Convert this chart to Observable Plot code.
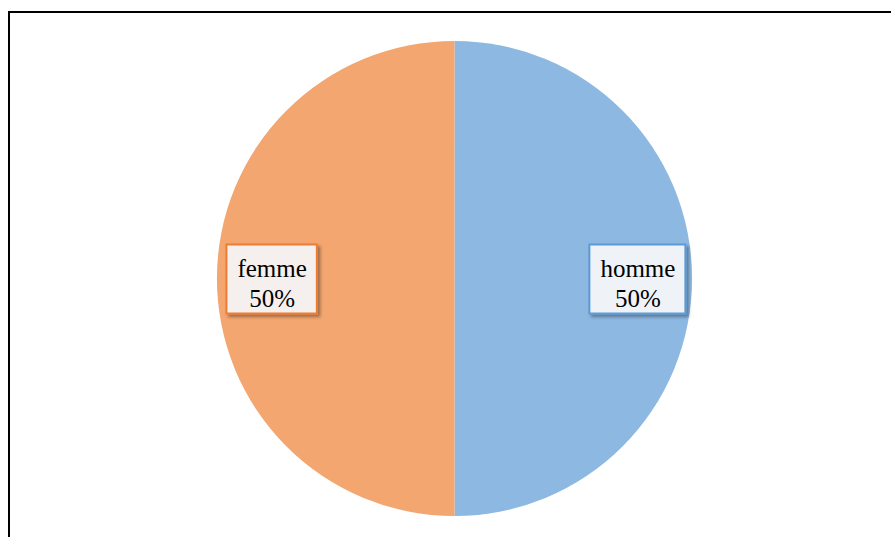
<!DOCTYPE html>
<html><head><meta charset="utf-8">
<script src="https://cdn.jsdelivr.net/npm/d3@7"></script>
<script src="https://cdn.jsdelivr.net/npm/@observablehq/plot@0.6"></script>
<style>
html,body{margin:0;padding:0;background:#fff;overflow:hidden}
#chart{position:relative;width:891px;height:537px}
#chart svg{position:absolute;left:0;top:0}
#frame{position:absolute;left:8px;top:11px;width:900px;height:600px;border-left:2px solid #000;border-top:2px solid #000;box-shadow:0 1px 0 #bbb}
</style></head>
<body>
<div id="chart"><div id="frame"></div></div>
<script>
const categories = ["homme", "femme"];
const values = [50, 50];
const percentLabels = ["50%", "50%"];

const sliceColor = d3.scaleOrdinal(categories, ["#8DB8E1", "#F3A66F"]);
const borderColor = d3.scaleOrdinal(categories, ["#5B9BD5", "#ED7D31"]);
const boxFill = d3.scaleOrdinal(categories, ["#EFF2F7", "#F5F0EE"]);

const rows = categories.map((c, i) => ({category: c, value: values[i], pct: percentLabels[i]}));
const arcs = d3.pie().sort(null).value(d => d.value)(rows);
const labelR = 0.77;
const labels = arcs.map(a => {
  const m = (a.startAngle + a.endAngle) / 2;
  return {category: a.data.category, text: a.data.category + "\n" + a.data.pct,
          x: labelR * Math.sin(m), y: labelR * Math.cos(m)};
});

const FONT = "25px 'Liberation Serif', 'Times New Roman', serif";
const ctx = document.createElement("canvas").getContext("2d");
ctx.font = FONT;
function textWidth(t) { return Math.max(...t.split("\n").map(s => ctx.measureText(s).width)); }

function pieMark(index, scales) {
  const {x, y} = scales;
  const cx = x(0), cy = y(0), r = x(1) - x(0);
  const g = d3.create("svg:g");
  const arc = d3.arc().innerRadius(0).outerRadius(r);
  g.append("g").attr("transform", `translate(${cx},${cy})`)
    .selectAll("path").data(arcs).join("path")
    .attr("d", arc).attr("fill", d => sliceColor(d.data.category));
  return g.node();
}

function boxMark(index, scales) {
  const {x, y} = scales;
  const g = d3.create("svg:g");
  const defs = g.append("defs");
  defs.append("filter").attr("id", "shadow").attr("x", "-20%").attr("y", "-20%").attr("width", "150%").attr("height", "150%")
    .append("feDropShadow").attr("dx", 2.5).attr("dy", 2.5).attr("stdDeviation", 1.8)
    .attr("flood-color", "#000").attr("flood-opacity", 0.35);
  for (const l of labels) {
    const w = textWidth(l.text) + 21, h = 69;
    g.append("rect")
      .attr("x", x(l.x) - w / 2).attr("y", y(l.y) - h / 2 + 0.5)
      .attr("width", w).attr("height", h)
      .attr("fill", boxFill(l.category))
      .attr("stroke", borderColor(l.category)).attr("stroke-width", 2)
      .attr("filter", "url(#shadow)");
  }
  return g.node();
}

const plot = Plot.plot({
  width: 891,
  height: 537,
  margin: 0,
  x: {domain: [-1, 1], range: [217, 692], axis: null},
  y: {domain: [1, -1], range: [41, 516], axis: null},
  marks: [
    pieMark,
    boxMark,
    Plot.text(labels, {
      x: "x", y: "y", text: "text",
      fontSize: 25, fontFamily: "'Liberation Serif', 'Times New Roman', serif",
      lineHeight: 1.2, dy: 3, fill: "#000"
    })
  ]
});
plot.style.background = "transparent";
document.getElementById("chart").appendChild(plot);
</script>
</body></html>
